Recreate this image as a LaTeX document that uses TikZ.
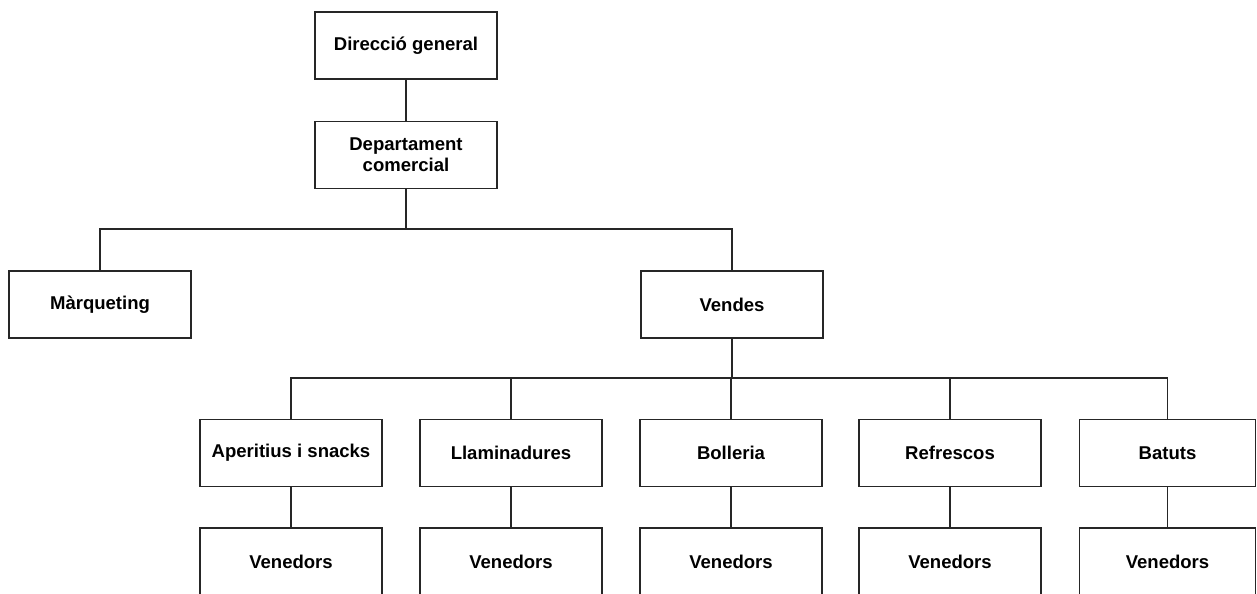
\documentclass[tikz,border=0pt]{standalone}
\usepackage{fontspec}
\setmainfont{Liberation Sans}
\begin{document}
\begin{tikzpicture}[x=0.75pt,y=-0.75pt,
  unit/.style={draw=black!85, line width=0.9pt, fill=white, inner sep=0pt, outer sep=0pt,
    minimum width=136.5pt, minimum height=50.25pt, align=center,
    font=\bfseries\fontsize{13.9}{15.8}\selectfont},
  link/.style={draw=black!85, line width=0.9pt}]
\useasboundingbox (0,0) rectangle (1257,593);
\clip (0,0) rectangle (1257,593);

% top of the chart
\node[unit] (dg) at (406,45.5) {Direcció general};
\node[unit] (dc) at (406,155) {Departament\\comercial};
\node[unit] (mk) at (100,304.5) {Màrqueting};
\node[unit] (vd) at (732,304.5) {Vendes};

% product lines
\node[unit] (ap) at (291,453) {Aperitius i snacks};
\node[unit] (ll) at (511,453) {Llaminadures};
\node[unit] (bo) at (731,453) {Bolleria};
\node[unit] (rf) at (950,453) {Refrescos};
\node[unit, minimum width=132.4pt] (bt) at (1167.5,453) {Batuts};

% sales staff
\node[unit] (v1) at (291,561.5) {Venedors};
\node[unit] (v2) at (511,561.5) {Venedors};
\node[unit] (v3) at (731,561.5) {Venedors};
\node[unit] (v4) at (950,561.5) {Venedors};
\node[unit, minimum width=132.4pt] (v5) at (1167.5,561.5) {Venedors};

% branch points
\coordinate (b1) at (406,229);
\coordinate (b2) at (732,378);

\draw[link] (dg.south) -- (dc.north);
\draw[link] (dc.south) -- (b1);
\draw[link] (mk.north) |- (b1) -| (vd.north);
\draw[link] (vd.south) -- (b2);
\foreach \n in {ap,ll,bo,rf,bt} \draw[link] (b2) -| (\n.north);
\draw[link] (ap.south) -- (v1.north);
\draw[link] (ll.south) -- (v2.north);
\draw[link] (bo.south) -- (v3.north);
\draw[link] (rf.south) -- (v4.north);
\draw[link] (bt.south) -- (v5.north);
\end{tikzpicture}
\end{document}
